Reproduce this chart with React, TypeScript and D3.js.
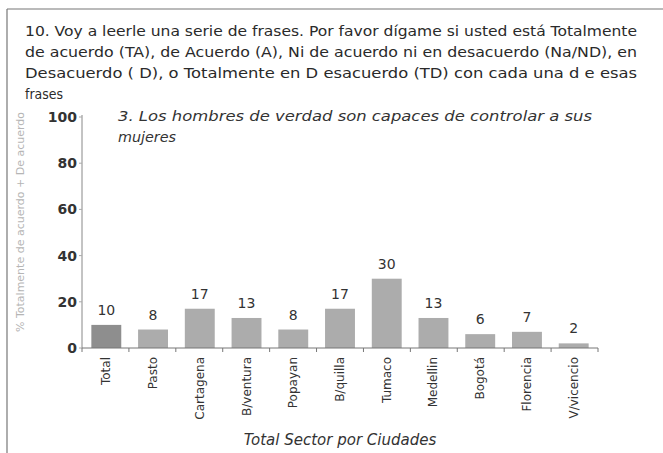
import React from "react";
import * as d3 from "d3";

const categories = ["Total", "Pasto", "Cartagena", "B/ventura", "Popayan", "B/quilla", "Tumaco", "Medellin", "Bogotá", "Florencia", "V/vicencio"];
const values = [10, 8, 17, 13, 8, 17, 30, 13, 6, 7, 2];
const yTicks = [0, 20, 40, 60, 80, 100];
const titleLines = [
  "10. Voy a leerle una serie de frases. Por favor dígame si usted está Totalmente",
  "de acuerdo (TA), de Acuerdo (A), Ni de acuerdo ni en desacuerdo (Na/ND), en",
  "Desacuerdo ( D), o Totalmente en D esacuerdo (TD) con cada una d e esas",
  "frases",
];
const subtitleLines = ["3. Los hombres de verdad son capaces de controlar a sus", "mujeres"];
const yTitle = "% Totalmente de acuerdo + De acuerdo";
const xTitle = "Total Sector por Ciudades";

const W = 663, H = 453;
const FONT = "'DejaVu Sans', sans-serif";
const titleWidths = [612, 612, 612, 38];
const subtitleWidths = [474, 58];

export default function App() {
  const x = d3.scaleBand<string>().domain(categories).range([82, 598]).paddingInner(0.36).paddingOuter(0.2);
  const y = d3.scaleLinear().domain([0, 100]).range([348, 117]);
  const bounds = d3.range(categories.length + 1).map((i) => 82 + (i * (598 - 82)) / categories.length);
  return (
    <svg width={W} height={H} style={{ position: "absolute", left: 0, top: 0, background: "#fff" }}>
      <rect x={0} y={0} width={W} height={H} fill="#fff" />
      <line x1={7} y1={9} x2={W} y2={9} stroke="#777" strokeWidth={1.2} />
      <line x1={7} y1={9} x2={7} y2={H} stroke="#777" strokeWidth={1.2} />
      {titleLines.map((t, i) => (
        <text key={i} x={25} y={36 + i * 21} fontFamily={FONT} fontSize={14} fill="#2a2a2a"
          textLength={titleWidths[i]} lengthAdjust="spacingAndGlyphs">{t}</text>
      ))}
      {subtitleLines.map((t, i) => (
        <text key={i} x={118} y={121 + i * 21} fontFamily={FONT} fontSize={14.5} fontStyle="italic" fill="#333"
          textLength={subtitleWidths[i]} lengthAdjust="spacingAndGlyphs">{t}</text>
      ))}
      <text transform={`translate(24,${222}) rotate(-90)`} textAnchor="middle" fontFamily={FONT} fontSize={11} fill="#b5b5b5">{yTitle}</text>
      <line x1={82} y1={115} x2={82} y2={348} stroke="#888" />
      {yTicks.map((t) => (
        <g key={t}>
          <line x1={79} x2={82} y1={y(t)} y2={y(t)} stroke="#aaa" />
          <text x={77} y={y(t)} dy="0.36em" textAnchor="end" fontFamily={FONT} fontSize={14} fontWeight="bold" fill="#333">{t}</text>
        </g>
      ))}
      {categories.map((c, i) => (
        <g key={c}>
          <rect x={x(c)} y={y(values[i])} width={x.bandwidth()} height={348 - y(values[i])} fill={i === 0 ? "#8e8e8e" : "#acacac"} />
          <text x={x(c)! + x.bandwidth() / 2} y={y(values[i]) - 10} textAnchor="middle" fontFamily={FONT} fontSize={14} fill="#333">{values[i]}</text>
          <text transform={`translate(${x(c)! + x.bandwidth() / 2 + 4},357) rotate(-90)`} textAnchor="end" fontFamily={FONT} fontSize={12} fill="#333">{c}</text>
        </g>
      ))}
      <line x1={82} x2={598} y1={348} y2={348} stroke="#777" />
      {bounds.map((b, i) => (
        <line key={i} x1={b} x2={b} y1={348} y2={352} stroke="#777" />
      ))}
      <text x={340} y={445} textAnchor="middle" fontFamily={FONT} fontSize={15} fontStyle="italic" fill="#333">{xTitle}</text>
    </svg>
  );
}
